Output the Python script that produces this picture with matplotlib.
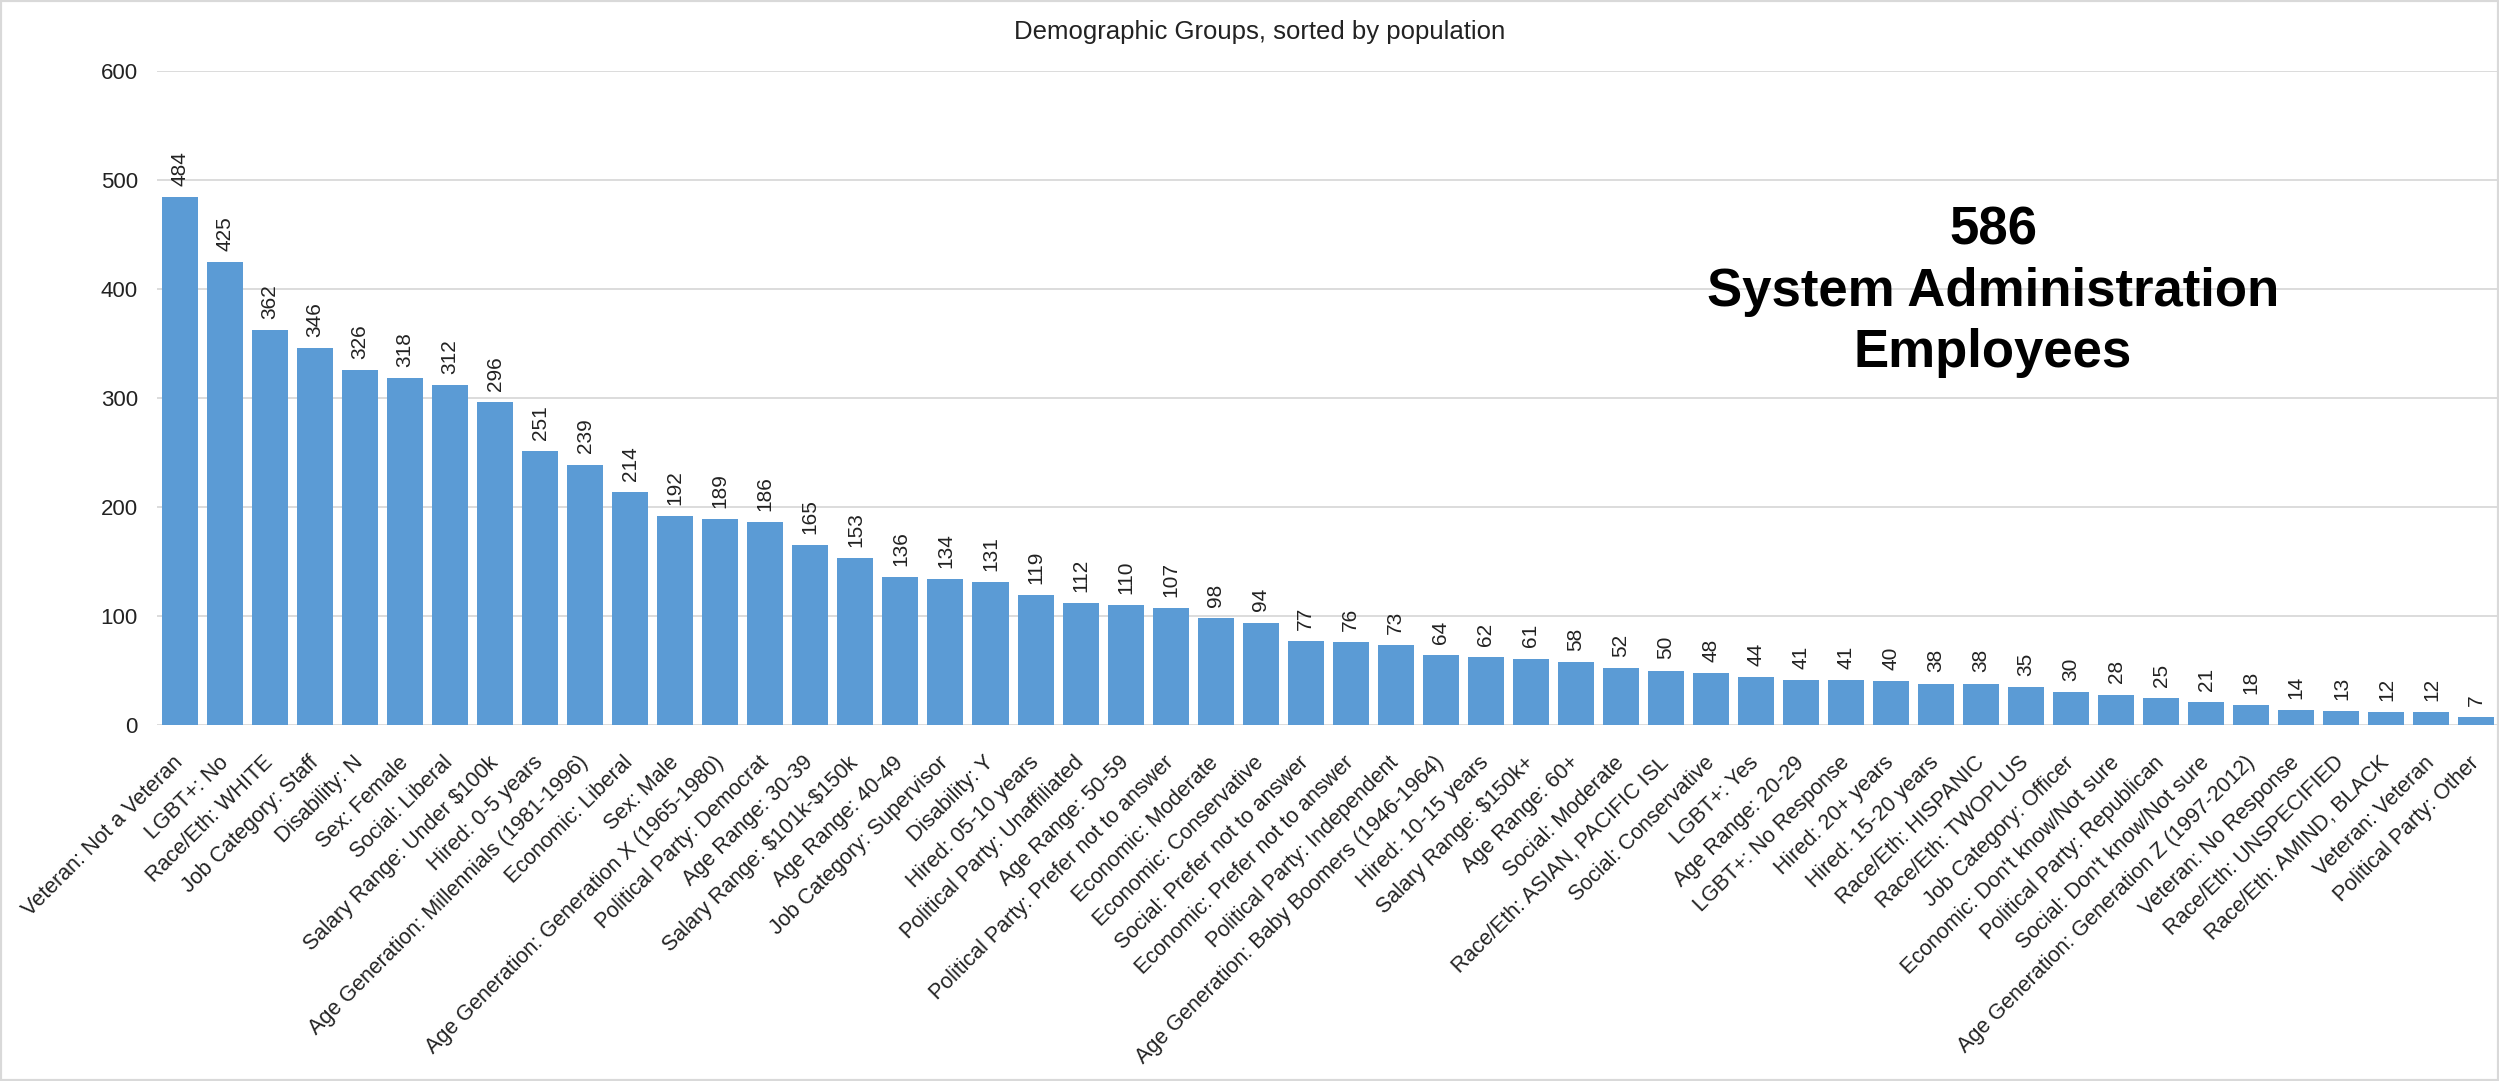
import matplotlib
matplotlib.use("Agg")
import matplotlib.pyplot as plt
from matplotlib.patches import Rectangle

plt.rcParams['font.family'] = ['Liberation Sans', 'DejaVu Sans']

# Group labels and head counts, largest first
groups = [
    'Veteran: Not a Veteran',
    'LGBT+: No',
    'Race/Eth: WHITE',
    'Job Category: Staff',
    'Disability: N',
    'Sex: Female',
    'Social: Liberal',
    'Salary Range: Under $100k',
    'Hired: 0-5 years',
    'Age Generation: Millennials (1981-1996)',
    'Economic: Liberal',
    'Sex: Male',
    'Age Generation: Generation X (1965-1980)',
    'Political Party: Democrat',
    'Age Range: 30-39',
    'Salary Range: $101k-$150k',
    'Age Range: 40-49',
    'Job Category: Supervisor',
    'Disability: Y',
    'Hired: 05-10 years',
    'Political Party: Unaffiliated',
    'Age Range: 50-59',
    'Political Party: Prefer not to answer',
    'Economic: Moderate',
    'Economic: Conservative',
    'Social: Prefer not to answer',
    'Economic: Prefer not to answer',
    'Political Party: Independent',
    'Age Generation: Baby Boomers (1946-1964)',
    'Hired: 10-15 years',
    'Salary Range: $150k+',
    'Age Range: 60+',
    'Social: Moderate',
    'Race/Eth: ASIAN, PACIFIC ISL',
    'Social: Conservative',
    'LGBT+: Yes',
    'Age Range: 20-29',
    'LGBT+: No Response',
    'Hired: 20+ years',
    'Hired: 15-20 years',
    'Race/Eth: HISPANIC',
    'Race/Eth: TWOPLUS',
    'Job Category: Officer',
    "Economic: Don't know/Not sure",
    'Political Party: Republican',
    "Social: Don't know/Not sure",
    'Age Generation: Generation Z (1997-2012)',
    'Veteran: No Response',
    'Race/Eth: UNSPECIFIED',
    'Race/Eth: AMIND, BLACK',
    'Veteran: Veteran',
    'Political Party: Other',
]
counts = [484, 425, 362, 346, 326, 318, 312, 296, 251, 239, 214, 192, 189,
          186, 165, 153, 136, 134, 131, 119, 112, 110, 107, 98, 94, 77, 76,
          73, 64, 62, 61, 58, 52, 50, 48, 44, 41, 41, 40, 38, 38, 35, 30, 28,
          25, 21, 18, 14, 13, 12, 12, 7]

total_employees = 586
department = 'System Administration'

fig = plt.figure(figsize=(24.99, 10.81), dpi=100)
ax = fig.add_axes([0.063, 0.3293, 0.937, 0.605])

x = range(len(groups))
bars = ax.bar(x, counts, width=0.8, color='#5b9bd5', zorder=3)

for rect, v in zip(bars, counts):
    ax.annotate(str(v), (rect.get_x() + rect.get_width() / 2, v),
                xytext=(0, 8), textcoords='offset points',
                ha='center', va='bottom', rotation=90,
                fontsize=15, color='#222222')

ax.set_xlim(-0.5, len(groups) - 0.5)
ax.set_ylim(0, 600)
ax.set_yticks(range(0, 601, 100))
ax.yaxis.grid(True, color='#d9d9d9', linewidth=1.3, zorder=0)
ax.set_axisbelow(True)
for s in ax.spines.values():
    s.set_visible(False)

ax.set_xticks(list(x))
ax.set_xticklabels(groups, rotation=45, ha='right', va='center',
                   rotation_mode='anchor', fontsize=15.5, color='#222222')
# dollar signs in the salary labels are literal, not math
for lab in ax.get_xticklabels():
    lab.set_parse_math(False)
ax.tick_params(axis='x', length=0, pad=25)
ax.tick_params(axis='y', length=0, pad=14, labelsize=16, labelcolor='#222222')

fig.text(0.504, 0.970, 'Demographic Groups, sorted by population',
         ha='center', va='center', fontsize=18.5, color='#222222')

fig.text(0.7975, 0.730, f'{total_employees}\n{department}\nEmployees',
         ha='center', va='center', fontsize=38, fontweight='bold',
         linespacing=1.28, color='black')

# thin light frame around the whole image
fig.patches.append(Rectangle((0, 0), 1, 1, transform=fig.transFigure,
                             fill=False, edgecolor='#d9d9d9', linewidth=3))

fig.savefig('out.png', dpi=100)
